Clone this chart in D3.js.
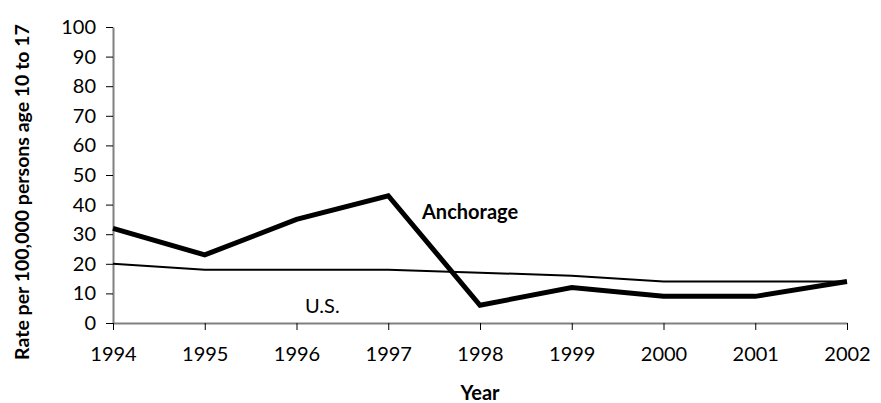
<!DOCTYPE html>
<html>
<head>
<meta charset="utf-8">
<script src="https://cdn.jsdelivr.net/npm/d3@7"></script>
<style>
  body { margin: 0; background: #fff; }
  svg text { font-family: "Lato", "Open Sans", sans-serif; fill: #000; }
</style>
</head>
<body>
<div id="wrap"></div>
<script>
const years = [1994, 1995, 1996, 1997, 1998, 1999, 2000, 2001, 2002];
const anchorage = [32, 23, 35, 43, 6, 12, 9, 9, 14];
const us = [20, 18, 18, 18, 17, 16, 14, 14, 14];
const yTicks = [0, 10, 20, 30, 40, 50, 60, 70, 80, 90, 100];

const width = 881;
const height = 403;
const margin = { left: 113, right: 34, top: 27, bottom: 80 };

const x = d3.scaleLinear()
    .domain([1994, 2002])
    .range([margin.left, width - margin.right]);

const y = d3.scaleLinear()
    .domain([0, 100])
    .range([height - margin.bottom, margin.top]);

const svg = d3.select("#wrap").append("svg")
    .attr("width", width)
    .attr("height", height);

// axes
const yAxis = d3.axisLeft(y)
    .tickValues(yTicks)
    .tickSizeInner(7)
    .tickSizeOuter(0)
    .tickPadding(10);

const xAxis = d3.axisBottom(x)
    .tickValues(years)
    .tickFormat(d3.format("d"))
    .tickSizeInner(7)
    .tickSizeOuter(0)
    .tickPadding(17);

const gy = svg.append("g")
    .attr("transform", `translate(${margin.left},0)`)
    .call(yAxis);

const gx = svg.append("g")
    .attr("transform", `translate(0,${y(0)})`)
    .call(xAxis);

[gx, gy].forEach(g => {
    g.select(".domain").attr("stroke", "#808080").attr("stroke-width", 2);
    g.selectAll(".tick line").attr("stroke", "#000").attr("stroke-width", 1);
    g.selectAll(".tick text").style("font-size", "20px");
});

// lines
const line = d3.line()
    .x((d, i) => x(years[i]))
    .y(d => y(d));

svg.append("path")
    .attr("d", line(us))
    .attr("fill", "none")
    .attr("stroke", "#000")
    .attr("stroke-width", 2);

svg.append("path")
    .attr("d", line(anchorage))
    .attr("fill", "none")
    .attr("stroke", "#000")
    .attr("stroke-width", 5)
    .attr("stroke-linejoin", "miter");

// labels
svg.append("text")
    .attr("x", 422)
    .attr("y", 219)
    .style("font-size", "20px")
    .style("font-weight", "bold")
    .text("Anchorage");

svg.append("text")
    .attr("x", 305)
    .attr("y", 313)
    .style("font-size", "20px")
    .text("U.S.");

svg.append("text")
    .attr("x", 480)
    .attr("y", 400)
    .attr("text-anchor", "middle")
    .style("font-size", "20px")
    .style("font-weight", "bold")
    .text("Year");

svg.append("text")
    .attr("transform", "translate(29,192) rotate(-90)")
    .attr("text-anchor", "middle")
    .style("font-size", "19.5px")
    .style("font-weight", "bold")
    .text("Rate per 100,000 persons age 10 to 17");
</script>
</body>
</html>
